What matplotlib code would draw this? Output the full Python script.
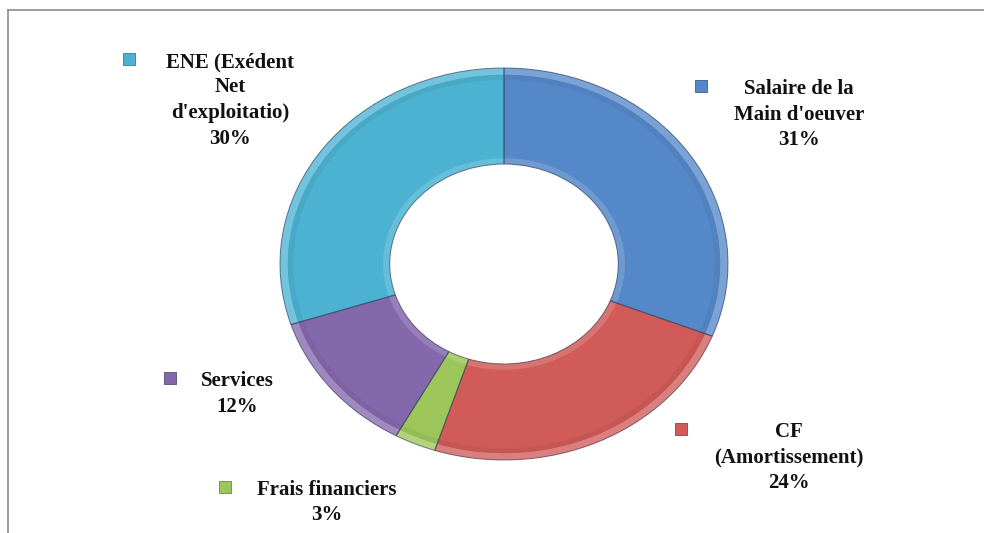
import matplotlib
matplotlib.use("Agg")
import matplotlib.pyplot as plt
from matplotlib.lines import Line2D
import numpy as np
from matplotlib.colors import to_rgb

# Répartition de la valeur ajoutée
categories = [
    "Salaire de la\nMain d'oeuver",
    "CF\n(Amortissement)",
    "Frais financiers",
    "Services",
    "ENE (Exédent\nNet\nd'exploitatio)",
]
values = [31, 24, 3, 12, 30]
colors = ["#5588C8", "#D05B58", "#9CC55A", "#8468AC", "#4CB2D2"]

W, H = 984, 533
fig = plt.figure(figsize=(W / 100, H / 100), dpi=100)
ax = fig.add_axes([0, 0, 1, 1])

# donut geometry in pixels (slightly wider than tall)
cx, cy = 504, 264
rx, ry = 224, 196
ring = 0.49


def lighten(c, f):
    r = np.array(to_rgb(c))
    return tuple(r + (1 - r) * f)


def darken(c, f):
    r = np.array(to_rgb(c))
    return tuple(r * (1 - f))


# main ring
ax.pie(values, colors=colors, startangle=90, counterclock=False, radius=1.0,
       wedgeprops=dict(width=ring, edgecolor="none"))
# soft bevel: light outer rim, shaded band, light inner rim
ax.pie(values, colors=[lighten(c, 0.22) for c in colors], startangle=90,
       counterclock=False, radius=1.0,
       wedgeprops=dict(width=0.035, edgecolor="none"))
ax.pie(values, colors=[darken(c, 0.05) for c in colors], startangle=90,
       counterclock=False, radius=0.965,
       wedgeprops=dict(width=0.025, edgecolor="none"))
ax.pie(values, colors=[lighten(c, 0.15) for c in colors], startangle=90,
       counterclock=False, radius=1 - ring + 0.03,
       wedgeprops=dict(width=0.03, edgecolor="none"))
# thin separators between slices
ax.pie(values, colors=["none"] * len(values), startangle=90, counterclock=False,
       radius=1.0,
       wedgeprops=dict(width=ring, edgecolor=(0.2, 0.25, 0.35, 0.55),
                       linewidth=0.8, fill=False))

ax.set_aspect("auto")
ax.set_xlim(-cx / rx, (W - cx) / rx)
ax.set_ylim(-(H - cy) / ry, cy / ry)
ax.axis("off")


def fx(px):
    return px / W


def fy(py):
    return 1 - py / H


font = dict(family="Liberation Serif", weight="bold", size=15, color="#111111")
line_step = 25.5

# label layout: (text center x, first line center y, marker x)
label_pos = [
    (799, 89, 701),
    (789, 432, 681),
    (327, 490, 225),
    (237, 381, 170),
    (230, 62, 129),
]

for cat, val, col, (tx, ty, mx) in zip(categories, values, colors, label_pos):
    lines = cat.split("\n") + [f"{val}%"]
    for i, line in enumerate(lines):
        fig.text(fx(tx), fy(ty + i * line_step), line, ha="center",
                 va="center", transform=fig.transFigure, **font)
    fig.add_artist(Line2D([fx(mx)], [fy(ty - 3)], marker="s", markersize=8,
                          markerfacecolor=col,
                          markeredgecolor=darken(col, 0.3),
                          markeredgewidth=0.6, linestyle="none",
                          transform=fig.transFigure))

# outer frame (top and left edges visible)
frame_col = "#8c8c8c"
fig.add_artist(Line2D([fx(8), 1.0], [fy(10), fy(10)], color=frame_col,
                      linewidth=1.2, transform=fig.transFigure))
fig.add_artist(Line2D([fx(8), fx(8)], [fy(10), 0.0], color=frame_col,
                      linewidth=1.2, transform=fig.transFigure))

fig.savefig("out.png", dpi=100, facecolor="white")
